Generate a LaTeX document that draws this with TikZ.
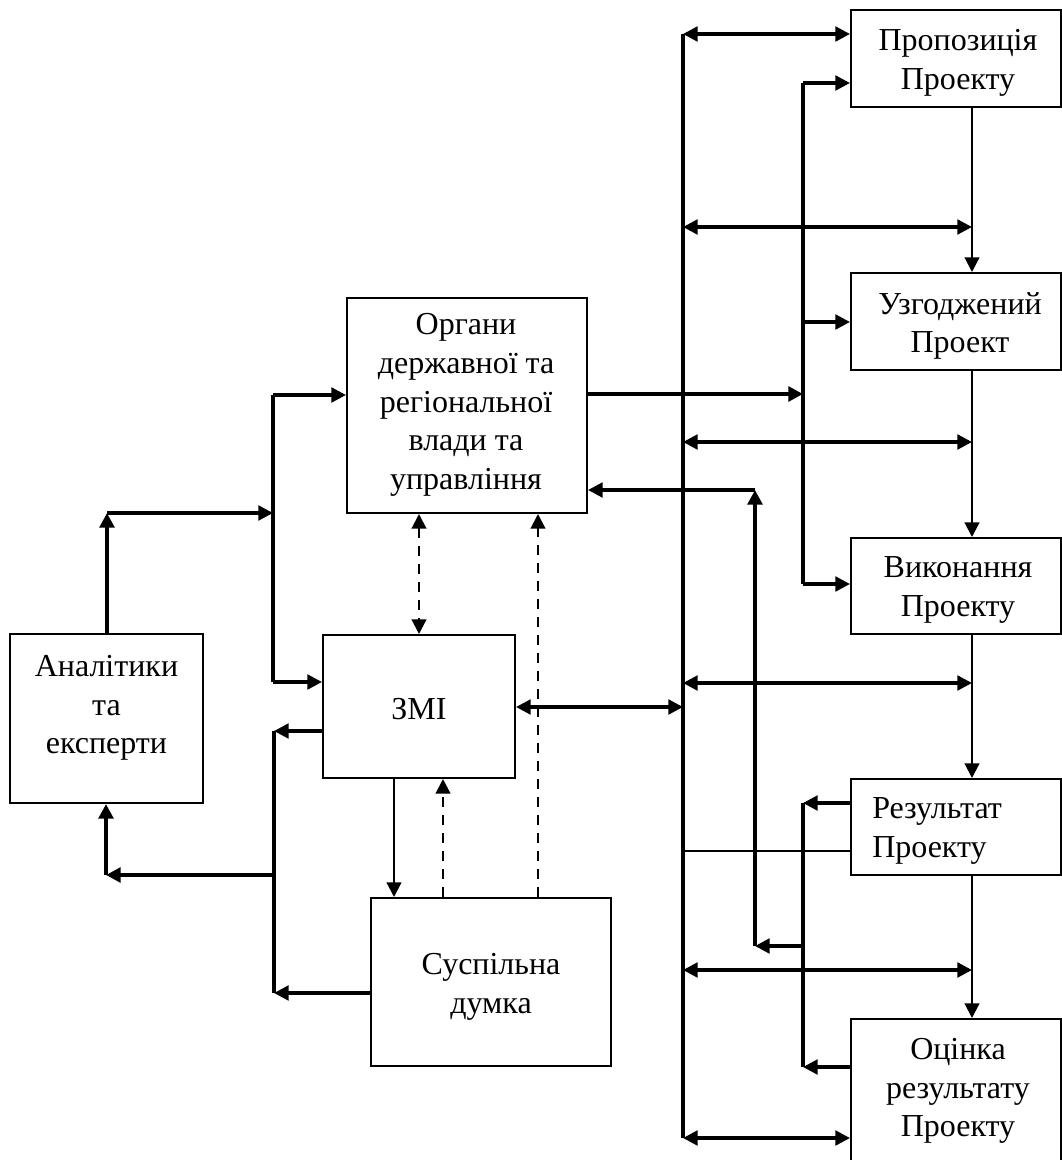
\documentclass[tikz,border=0pt]{standalone}
\usepackage{fontspec}
\setmainfont{Liberation Serif}
\usetikzlibrary{arrows.meta}
\begin{document}
\begin{tikzpicture}[x=0.75pt,y=-0.75pt,
  box/.style={draw, line width=1.5pt, inner sep=0pt},
  lbl/.style={align=center, font=\fontsize{24}{29}\selectfont, inner sep=0pt},
  bus/.style={line width=3.4pt},
  med/.style={line width=2.4pt},
  thinl/.style={line width=1.6pt},
  dsh/.style={line width=1.6pt, dash pattern=on 7.5pt off 6pt},
  >={Triangle[length=11pt,width=11pt]}
]
\useasboundingbox (0,0) rectangle (1062,1160);
% right column boxes
\node[box, minimum width={210*0.75pt}, minimum height={97*0.75pt}] (prop) at (956,58.5) {};
\node[lbl] (proptxt) at (958,63) {Пропозиція\\Проекту};
\node[box, minimum width={210*0.75pt}, minimum height={97*0.75pt}] (uzg) at (956,321.5) {};
\node[lbl] (uzgtxt) at (960,326) {Узгоджений\\Проект};
\node[box, minimum width={210*0.75pt}, minimum height={96*0.75pt}] (vyk) at (956,586) {};
\node[lbl] (vyktxt) at (958,590) {Виконання\\Проекту};
\node[box, minimum width={210*0.75pt}, minimum height={96*0.75pt}] (rez) at (956,827) {};
\node[lbl, align=left, anchor=west] (reztxt) at (872,831) {Результат\\Проекту};
\node[box, minimum width={210*0.75pt}, minimum height={160*0.75pt}] (ots) at (956,1099) {};
\node[lbl] (otstxt) at (958,1091) {Оцінка\\результату\\Проекту};
% left boxes
\node[box, minimum width={240*0.75pt}, minimum height={215*0.75pt}] (org) at (467,405.5) {};
\node[lbl] (orgtxt) at (466,405) {Органи\\державної та\\регіональної\\влади та\\управління};
\node[box, minimum width={192*0.75pt}, minimum height={143*0.75pt}] (zmi) at (419,706.5) {};
\node[lbl] (zmitxt) at (419,709) {ЗМІ};
\node[box, minimum width={193*0.75pt}, minimum height={169*0.75pt}] (anal) at (106.5,718.5) {};
\node[lbl] (analtxt) at (106.5,708) {Аналітики\\та\\експерти};
\node[box, minimum width={240*0.75pt}, minimum height={168*0.75pt}] (susp) at (491,982) {};
\node[lbl] (susptxt) at (491,987) {Суспільна\\думка};
% coordinates
\coordinate (cx) at (972,0);
\coordinate (b1t) at (683,34);
\coordinate (b1b) at (683,1138);
\coordinate (b2t) at (803,83);
\coordinate (b2m) at (803,322);
\coordinate (b2b) at (803,584);
\coordinate (b2i) at (803,394);
\coordinate (b3t) at (803,803);
\coordinate (b3m) at (803,946);
\coordinate (b3b) at (803,1067);
\coordinate (b4t) at (755,490);
\coordinate (b4b) at (755,946);
\coordinate (h1) at (683,227);
\coordinate (h2) at (683,442);
\coordinate (h3) at (683,683);
\coordinate (h4) at (683,707);
\coordinate (h5) at (683,851);
\coordinate (h6) at (683,970);
\coordinate (lb1t) at (273,395);
\coordinate (lb1b) at (273,682);
\coordinate (lb2t) at (274,731);
\coordinate (lb2m) at (274,875);
\coordinate (lb2b) at (274,993);
\coordinate (ac) at (107,513);
\coordinate (ad) at (106,875);
% main bus
\draw[bus] (b1t) -- (b1b);
\draw[med,<->] (b1t) -- (b1t -| prop.west);
\draw[med,<->] (h1) -- (h1 -| cx);
\draw[med,<->] (h2) -- (h2 -| cx);
\draw[med,<->] (h3) -- (h3 -| cx);
\draw[med,<->] (h4 -| zmi.east) -- (h4);
\draw[thinl] (h5) -- (h5 -| rez.west);
\draw[med,<->] (h6) -- (h6 -| cx);
\draw[med,<->] (b1b) -- (b1b -| ots.west);
% chain of project stages
\draw[thinl,->] (prop.south -| cx) -- (uzg.north -| cx);
\draw[thinl,->] (uzg.south -| cx) -- (vyk.north -| cx);
\draw[thinl,->] (vyk.south -| cx) -- (rez.north -| cx);
\draw[thinl,->] (rez.south -| cx) -- (ots.north -| cx);
% second bus (from authorities)
\draw[bus] (b2t) -- (b2b);
\draw[med,->] (b2t) -- (b2t -| prop.west);
\draw[med,->] (b2m) -- (b2m -| uzg.west);
\draw[med,->] (b2b) -- (b2b -| vyk.west);
\draw[bus,->] (b2i -| org.east) -- (b2i);
% feedback bus
\draw[bus] (b3t) -- (b3b);
\draw[med,->] (b3t -| rez.west) -- (b3t);
\draw[med,->] (b3b -| ots.west) -- (b3b);
\draw[med,->] (b3m) -- (b4b);
\draw[bus,->] (b4b) -- (b4t);
\draw[med,->] (b4t) -- (b4t -| org.east);
% left side
\draw[bus,->] (ac |- anal.north) -- (ac);
\draw[med,->] (ac) -- (lb1t |- ac);
\draw[bus] (lb1t) -- (lb1b);
\draw[med,->] (lb1t) -- (lb1t -| org.west);
\draw[med,->] (lb1b) -- (lb1b -| zmi.west);
\draw[bus] (lb2t) -- (lb2b);
\draw[med,->] (lb2t -| zmi.west) -- (lb2t);
\draw[med,->] (lb2b -| susp.west) -- (lb2b);
\draw[bus,->] (lb2m) -- (ad);
\draw[bus,->] (ad) -- (ad |- anal.south);
% media / public opinion / authorities
\draw[dsh,<->] (org.south -| zmi.north) -- (zmi.north);
\draw[thinl,->] ([xshift={-25*0.75pt}]zmi.south) -- ([xshift={-25*0.75pt}]zmi.south |- susp.north);
\draw[dsh,->] ([xshift={24*0.75pt}]zmi.south |- susp.north) -- ([xshift={24*0.75pt}]zmi.south);
\draw[dsh,->] ([xshift={47*0.75pt}]susp.north) -- ([xshift={47*0.75pt}]susp.north |- org.south);
\end{tikzpicture}
\end{document}
